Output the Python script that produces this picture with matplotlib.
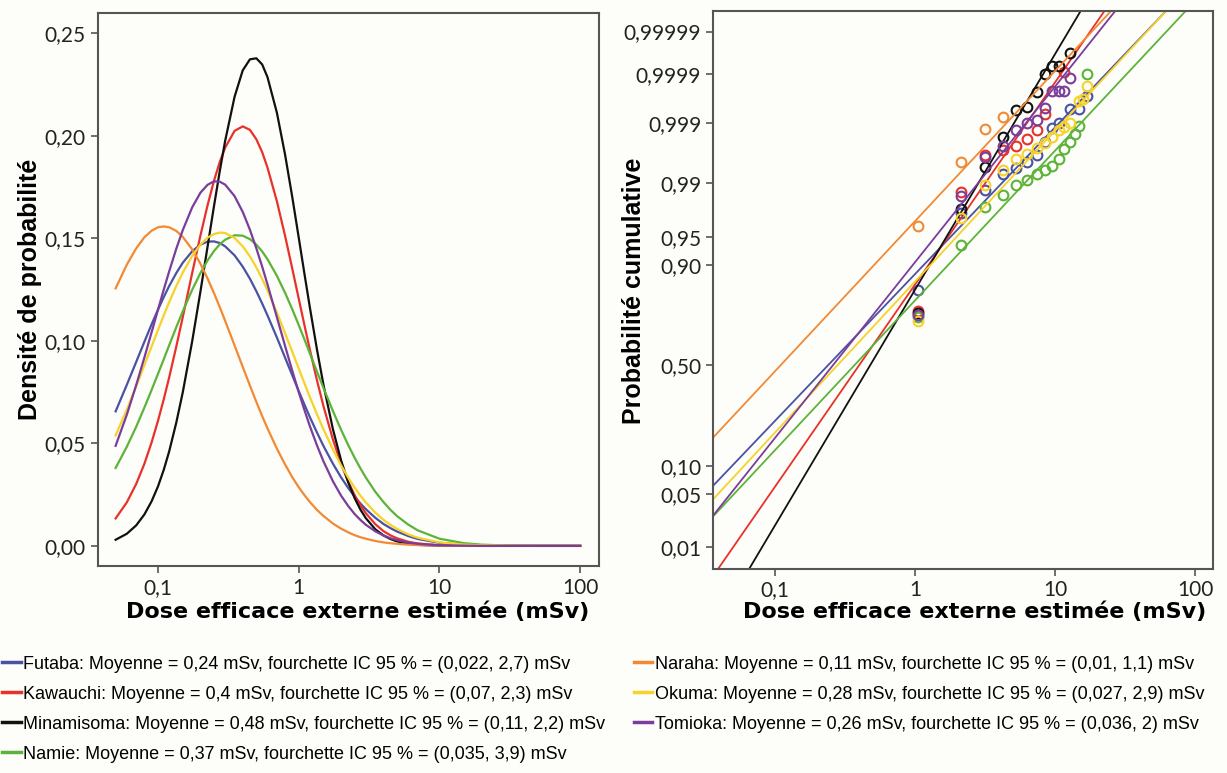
import matplotlib
matplotlib.use("Agg")
import matplotlib.pyplot as plt
from matplotlib.lines import Line2D
from math import erf, sqrt
import numpy as np

# towns, legend values
towns = ["Futaba", "Kawauchi", "Minamisoma", "Namie", "Naraha", "Okuma", "Tomioka"]
means = [0.24, 0.4, 0.48, 0.37, 0.11, 0.28, 0.26]
ci_low = [0.022, 0.07, 0.11, 0.035, 0.01, 0.027, 0.036]
ci_high = [2.7, 2.3, 2.2, 3.9, 1.1, 2.9, 2]
colors = ["#4a52a3", "#e8312b", "#111111", "#5db33a", "#f28a35", "#f6d22a", "#7a3d9c"]

# left panel: density read along the dose grid
dose_grid = [0.05, 0.06, 0.07, 0.08, 0.09, 0.1, 0.11, 0.12, 0.135, 0.15,
             0.175, 0.2, 0.225, 0.25, 0.275, 0.3, 0.35, 0.4, 0.45, 0.5,
             0.55, 0.6, 0.7, 0.8, 0.9, 1, 1.1, 1.2, 1.35, 1.5,
             1.75, 2, 2.25, 2.5, 2.75, 3, 3.5, 4, 4.5, 5,
             6, 7, 10, 15, 20, 30, 50, 100]
dens_futaba = [0.0656, 0.0785, 0.0897, 0.0995, 0.1080, 0.1152, 0.1214, 0.1267, 0.1331, 0.1381,
               0.1437, 0.1469, 0.1484, 0.1485, 0.1477, 0.1461, 0.1417, 0.1362, 0.1303, 0.1242,
               0.1182, 0.1124, 0.1016, 0.0918, 0.0832, 0.0755, 0.0688, 0.0628, 0.0552, 0.0487,
               0.0401, 0.0334, 0.0282, 0.0240, 0.0206, 0.0179, 0.0137, 0.0107, 0.0086, 0.0070,
               0.0048, 0.0034, 0.0015, 0.0005, 0.0002, 0.0001, 0.0, 0.0]
dens_kawauchi = [0.0134, 0.0212, 0.0302, 0.0400, 0.0504, 0.0610, 0.0716, 0.0821, 0.0973, 0.1116,
                 0.1331, 0.1512, 0.1661, 0.1781, 0.1873, 0.1942, 0.2024, 0.2046, 0.2029, 0.1983,
                 0.1920, 0.1845, 0.1680, 0.1512, 0.1352, 0.1206, 0.1074, 0.0957, 0.0806, 0.0681,
                 0.0519, 0.0400, 0.0312, 0.0247, 0.0197, 0.0159, 0.0106, 0.0072, 0.0051, 0.0037,
                 0.0020, 0.0012, 0.0003, 0.0, 0.0, 0.0, 0.0, 0.0]
dens_minamisoma = [0.0030, 0.0059, 0.0100, 0.0153, 0.0217, 0.0290, 0.0372, 0.0460, 0.0602, 0.0749,
                   0.0998, 0.1238, 0.1459, 0.1657, 0.1829, 0.1975, 0.2190, 0.2319, 0.2373, 0.2378,
                   0.2348, 0.2286, 0.2112, 0.1908, 0.1701, 0.1504, 0.1324, 0.1163, 0.0955, 0.0785,
                   0.0569, 0.0417, 0.0309, 0.0232, 0.0176, 0.0135, 0.0081, 0.0051, 0.0033, 0.0022,
                   0.0010, 0.0005, 0.0001, 0.0, 0.0, 0.0, 0.0, 0.0]
dens_namie = [0.0380, 0.0483, 0.0581, 0.0674, 0.0760, 0.0839, 0.0911, 0.0978, 0.1067, 0.1144,
              0.1249, 0.1330, 0.1392, 0.1438, 0.1471, 0.1493, 0.1515, 0.1513, 0.1496, 0.1469,
              0.1436, 0.1398, 0.1317, 0.1234, 0.1154, 0.1077, 0.1006, 0.0939, 0.0849, 0.0770,
              0.0658, 0.0566, 0.0491, 0.0429, 0.0377, 0.0333, 0.0264, 0.0214, 0.0175, 0.0145,
              0.0104, 0.0076, 0.0035, 0.0013, 0.0006, 0.0002, 0.0, 0.0]
dens_naraha = [0.1256, 0.1371, 0.1451, 0.1505, 0.1537, 0.1554, 0.1558, 0.1554, 0.1536, 0.1507,
               0.1446, 0.1377, 0.1304, 0.1233, 0.1164, 0.1098, 0.0978, 0.0873, 0.0782, 0.0702,
               0.0633, 0.0573, 0.0474, 0.0397, 0.0335, 0.0286, 0.0247, 0.0214, 0.0175, 0.0146,
               0.0109, 0.0084, 0.0066, 0.0052, 0.0042, 0.0035, 0.0024, 0.0017, 0.0013, 0.0010,
               0.0006, 0.0004, 0.0001, 0.0, 0.0, 0.0, 0.0, 0.0]
dens_okuma = [0.0539, 0.0664, 0.0778, 0.0881, 0.0972, 0.1053, 0.1125, 0.1188, 0.1268, 0.1333,
              0.1414, 0.1469, 0.1503, 0.1521, 0.1528, 0.1526, 0.1502, 0.1461, 0.1412, 0.1358,
              0.1302, 0.1246, 0.1138, 0.1037, 0.0947, 0.0865, 0.0792, 0.0726, 0.0641, 0.0568,
              0.0470, 0.0393, 0.0332, 0.0284, 0.0244, 0.0212, 0.0162, 0.0127, 0.0102, 0.0083,
              0.0056, 0.0040, 0.0017, 0.0006, 0.0003, 0.0001, 0.0, 0.0]
dens_tomioka = [0.0488, 0.0639, 0.0784, 0.0918, 0.1041, 0.1152, 0.1251, 0.1338, 0.1450, 0.1540,
                0.1651, 0.1722, 0.1761, 0.1778, 0.1776, 0.1762, 0.1706, 0.1629, 0.1542, 0.1451,
                0.1362, 0.1275, 0.1115, 0.0975, 0.0854, 0.0750, 0.0661, 0.0584, 0.0489, 0.0412,
                0.0315, 0.0245, 0.0194, 0.0155, 0.0126, 0.0103, 0.0071, 0.0051, 0.0037, 0.0028,
                0.0016, 0.0010, 0.0003, 0.0001, 0.0, 0.0, 0.0, 0.0]
densities = [dens_futaba, dens_kawauchi, dens_minamisoma, dens_namie,
             dens_naraha, dens_okuma, dens_tomioka]

# right panel: observed cumulative probabilities
dose_futaba = [1.06, 2.12, 3.18, 4.24, 5.3, 6.36, 7.42, 8.48, 9.54, 10.6, 12.72, 14.84, 16.96]
cum_futaba = [0.8315, 0.9744, 0.98745, 0.99286, 0.99413, 0.99534, 0.99643, 0.99781, 0.99878,
              0.99903, 0.99946, 0.99946, 0.99971]
dose_kawauchi = [1.06, 2.12, 3.18, 4.24, 5.3, 6.36, 7.42, 8.48, 11.66]
cum_kawauchi = [0.7549, 0.98645, 0.99643, 0.99702, 0.99744, 0.99807, 0.99869, 0.99934, 0.99991]
dose_minamisoma = [1.06, 2.12, 3.18, 4.24, 5.3, 6.36, 7.42, 8.48, 9.54, 10.6, 12.72]
cum_minamisoma = [0.7486, 0.9772, 0.99446, 0.99825, 0.999443, 0.999517, 0.999758, 0.9999004,
                  0.9999333, 0.9999333, 0.999967]
dose_namie = [1.06, 2.12, 3.18, 4.24, 5.3, 6.36, 7.42, 8.48, 9.54, 10.6, 11.66, 12.72, 13.78,
              14.84, 16.96]
cum_namie = [0.7324, 0.9382, 0.9783, 0.9854, 0.98956, 0.9911, 0.99266, 0.99379, 0.99461, 0.99573,
             0.99711, 0.99788, 0.99841, 0.99889, 0.9999004]
dose_naraha = [1.06, 2.12, 3.18, 4.24]
cum_naraha = [0.9625, 0.99534, 0.99874, 0.999238]
dose_okuma = [1.06, 2.12, 3.18, 4.24, 5.3, 6.36, 7.42, 8.48, 9.54, 10.6, 11.66, 12.72, 14.84,
              15.9, 16.96]
cum_okuma = [0.7123, 0.9699, 0.9893, 0.99379, 0.99573, 0.99653, 0.99728, 0.99774, 0.99825,
             0.99869, 0.99886, 0.99903, 0.999638, 0.999663, 0.999822]
dose_tomioka = [1.06, 2.12, 3.18, 4.24, 5.3, 6.36, 7.42, 8.48, 9.54, 10.6, 11.66, 12.72]
cum_tomioka = [0.7389, 0.9846, 0.99609, 0.99744, 0.99869, 0.999032, 0.999155, 0.999499,
               0.999767, 0.999767, 0.999767, 0.999879]
obs_doses = [dose_futaba, dose_kawauchi, dose_minamisoma, dose_namie,
             dose_naraha, dose_okuma, dose_tomioka]
obs_cums = [cum_futaba, cum_kawauchi, cum_minamisoma, cum_namie,
            cum_naraha, cum_okuma, cum_tomioka]

# fitted lines: cumulative probability read at 0,1 mSv and 10 mSv
fit_p_01 = [0.2378, 0.0598, 0.0201, 0.1383, 0.4683, 0.1941, 0.1756]
fit_p_10 = [0.99882, 0.99985, 0.999965, 0.99695, 0.999915, 0.99864, 0.999816]

prob_ticks = [0.01, 0.05, 0.10, 0.50, 0.90, 0.95, 0.99, 0.999, 0.9999, 0.99999]
prob_labels = ["0,01", "0,05", "0,10", "0,50", "0,90", "0,95", "0,99", "0,999", "0,9999", "0,99999"]


def norm_cdf(z):
    return 0.5 * (1 + erf(z / sqrt(2)))


def probit(p):
    lo, hi = -10.0, 10.0
    for _ in range(80):
        mid = 0.5 * (lo + hi)
        if norm_cdf(mid) < p:
            lo = mid
        else:
            hi = mid
    return 0.5 * (lo + hi)


def probit_arr(ps):
    return np.array([probit(p) for p in ps])


def fr(v):
    return f"{v:g}".replace(".", ",")


bg = "#fdfdf9"
tick_font = "Lato"
xlabel_font = "DejaVu Sans"
ylabel_font = "Liberation Sans"

fig = plt.figure(figsize=(12.27, 7.73), dpi=100, facecolor=bg)
ax1 = fig.add_axes([0.0795, 0.2678, 0.4083, 0.7154], facecolor=bg)
ax2 = fig.add_axes([0.5811, 0.2644, 0.4075, 0.7213], facecolor=bg)

handles = []
for i, town in enumerate(towns):
    label = (f"{town}: Moyenne = {fr(means[i])} mSv, fourchette IC 95 % = "
             f"({fr(ci_low[i])}, {fr(ci_high[i])}) mSv")
    ax1.plot(dose_grid, densities[i], color=colors[i], lw=1.6)
    ax2.axline((0.1, probit(fit_p_01[i])), (10, probit(fit_p_10[i])), color=colors[i], lw=1.3)
    ax2.plot(obs_doses[i], probit_arr(obs_cums[i]), "o", mfc="none", mec=colors[i],
             ms=7, mew=1.5)
    handles.append(Line2D([0], [0], color=colors[i], lw=2.5, label=label))

for ax in (ax1, ax2):
    ax.set_xscale("log")
    ax.set_xticks([0.1, 1, 10, 100])
    ax.set_xticklabels(["0,1", "1", "10", "100"])
    ax.minorticks_off()
    for s in ax.spines.values():
        s.set_color("#555555")
        s.set_linewidth(1.5)
    ax.tick_params(colors="#555555", labelcolor="#222222", length=5, width=1.2,
                   labelsize=15)
    ax.set_xlabel("Dose efficace externe estimée (mSv)", fontsize=16, fontweight="bold",
                  family=xlabel_font)
    ax.xaxis.label.set_va("center")

ax1.set_xlim(0.0372, 135)
ax1.set_ylim(-0.0098, 0.2599)
ax1.set_yticks([0, 0.05, 0.10, 0.15, 0.20, 0.25])
ax1.set_yticklabels(["0,00", "0,05", "0,10", "0,15", "0,20", "0,25"])
ax1.set_ylabel("Densité de probabilité", fontsize=18, fontweight="bold", family=ylabel_font)
ax1.yaxis.label.set_va("center")
ax1.yaxis.set_label_coords(-0.135, 0.5)
ax1.xaxis.set_label_coords(0.52, -0.083)

ax2.set_xlim(0.0363, 134)
ax2.set_ylim(probit(0.0047), probit(0.999997))
ax2.set_yticks(probit_arr(prob_ticks))
ax2.set_yticklabels(prob_labels)
ax2.set_ylabel("Probabilité cumulative", fontsize=18, fontweight="bold", family=ylabel_font)
ax2.yaxis.label.set_va("center")
ax2.yaxis.set_label_coords(-0.158, 0.498)
ax2.xaxis.set_label_coords(0.524, -0.078)

for ax in (ax1, ax2):
    for t in ax.get_xticklabels() + ax.get_yticklabels():
        t.set_fontfamily(tick_font)

fig.legend(handles=handles, ncol=2, loc="upper left", bbox_to_anchor=(0.002, 0.152),
           frameon=False, prop={"family": "Liberation Sans", "size": 13},
           handlelength=1.0, handletextpad=0.15, columnspacing=1.6, labelspacing=0.72,
           borderpad=0, borderaxespad=0)

fig.savefig("out.png", dpi=100, facecolor=bg)
